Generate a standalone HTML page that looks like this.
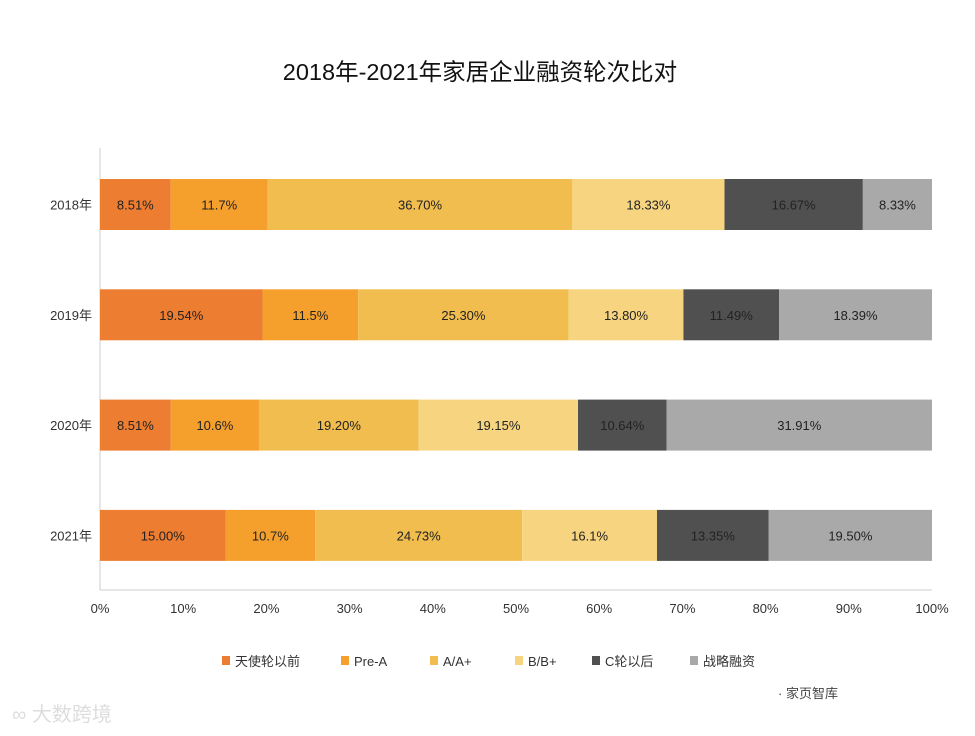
<!DOCTYPE html>
<html><head><meta charset="utf-8"><style>
body{margin:0;background:#fff;font-family:"Liberation Sans","Noto Sans CJK SC",sans-serif;}
svg text{font-family:"Liberation Sans","Noto Sans CJK SC",sans-serif;}
</style></head><body>
<svg id="c" width="975" height="731" xmlns="http://www.w3.org/2000/svg">
<text x="480" y="80" text-anchor="middle" font-size="23.5" fill="#111">2018年-2021年家居企业融资轮次比对</text>
<g id="plot"></g>
<text x="778" y="698" font-size="13" fill="#444">·  家页智库</text>
<text x="12" y="721" font-size="20" fill="#ddd">∞ 大数跨境</text>
</svg>
<script>
const years=['2018年','2019年','2020年','2021年'];
const seriesNames=['天使轮以前','Pre-A','A/A+','B/B+','C轮以后','战略融资'];
const angel=[8.51,19.54,8.51,15.00];
const preA=[11.7,11.5,10.6,10.7];
const aRound=[36.70,25.30,19.20,24.73];
const bRound=[18.33,13.80,19.15,16.1];
const cRound=[16.67,11.49,10.64,13.35];
const strategic=[8.33,18.39,31.91,19.50];
const labels=[
['8.51%','11.7%','36.70%','18.33%','16.67%','8.33%'],
['19.54%','11.5%','25.30%','13.80%','11.49%','18.39%'],
['8.51%','10.6%','19.20%','19.15%','10.64%','31.91%'],
['15.00%','10.7%','24.73%','16.1%','13.35%','19.50%']];
const xTicks=[0,10,20,30,40,50,60,70,80,90,100];
const series=[angel,preA,aRound,bRound,cRound,strategic];
const colors=['#ED7D31','#F5A02C','#F0BD4E','#F7D47F','#505050','#A9A9A9'];
const textColors=['#222','#222','#222','#222','#222','#222'];
const X0=100,X1=932,top0=148,rowH=110.3,barH=51;
const x=v=>X0+(X1-X0)*v/100;
const yRow=i=>top0+31+i*rowH;
const NS='http://www.w3.org/2000/svg';
const g=document.getElementById('plot');
function mk(t,a){const e=document.createElementNS(NS,t);for(const k in a)e.setAttribute(k,a[k]);g.appendChild(e);return e;}
let e=mk('line',{x1:X0,y1:top0,x2:X0,y2:590,stroke:'#ccc'});


e=mk('line',{x1:X0,y1:590,x2:X1,y2:590,stroke:'#ccc'});


xTicks.forEach(t=>{const tx=mk('text',{x:x(t),y:613,'text-anchor':'middle','font-size':13,fill:'#333'});tx.textContent=t+'%';

});
years.forEach((yr,i)=>{
 const y=yRow(i);
 const yl=mk('text',{x:92,y:y+barH/2+5,'text-anchor':'end','font-size':13,fill:'#333'});yl.textContent=yr;
 
 
 let total=0;series.forEach(s=>total+=s[i]);
 const k=100/Math.max(total,100);
 const k2=total<100?100/total:k;
 let acc=0;
 series.forEach((s,j)=>{
  const a=Math.min(acc*k2,100),b=Math.min((acc+s[i])*k2,100);acc+=s[i];
  const r=mk('rect',{x:x(a),y:y,width:Math.max(0,x(b)-x(a)),height:barH,fill:colors[j]});
  
  
  const t=mk('text',{x:(x(a)+x(b))/2,y:y+barH/2+5,'text-anchor':'middle','font-size':13,fill:textColors[j]});
  t.textContent=labels[i][j];
  
  
 });
});
const legX=[222,341,430,515,592,690];
seriesNames.forEach((n,j)=>{
 const r=mk('rect',{x:legX[j],y:656,width:8,height:9,fill:colors[j]});
 
 
 const t=mk('text',{x:legX[j]+13,y:666,'font-size':13,fill:'#333'});t.textContent=n;
 
 
});
</script>
</body></html>
